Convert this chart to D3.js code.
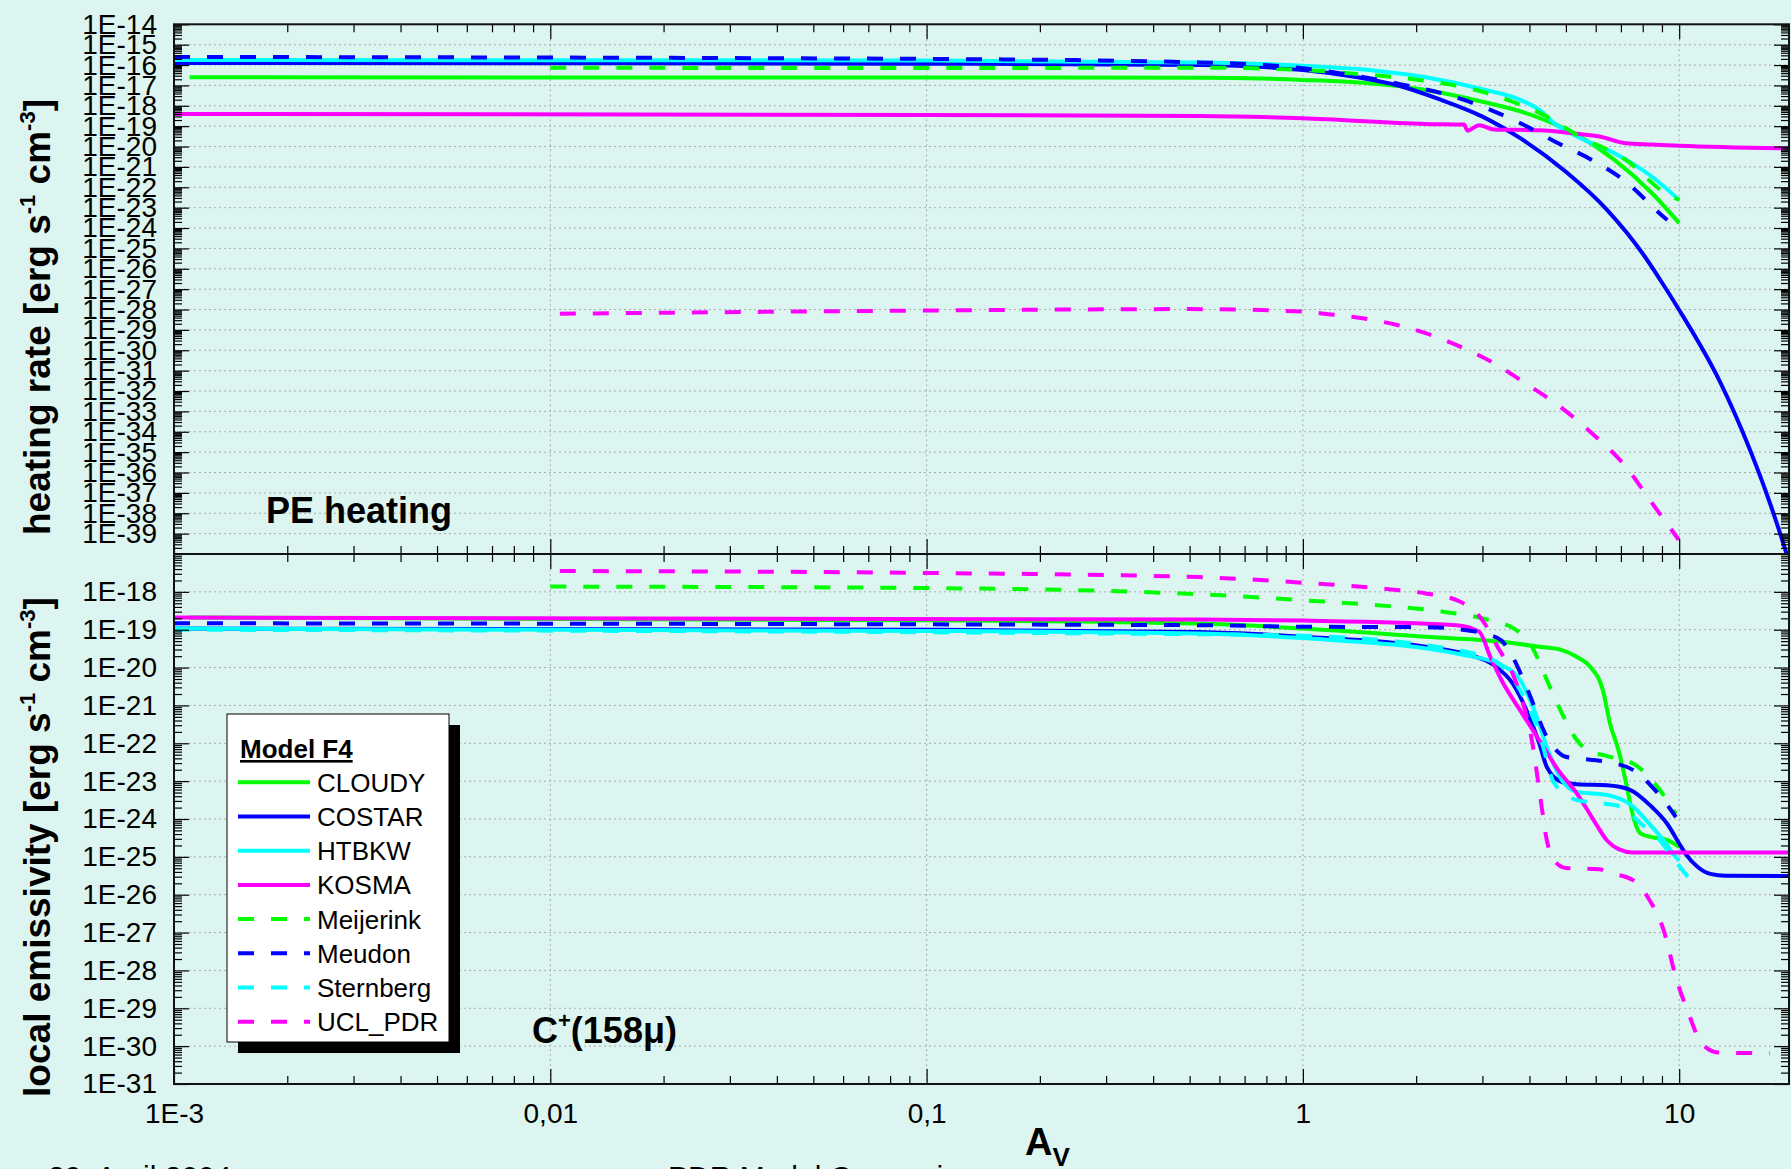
<!DOCTYPE html>
<html><head><meta charset="utf-8">
<script src="https://cdn.jsdelivr.net/npm/d3@7"></script>
<style>
html,body{margin:0;padding:0;background:#DDF5F0;}
svg{display:block;}
text{font-family:"Liberation Sans",Arial,Helvetica,sans-serif;}
</style></head><body>
<svg id="chart" width="1791" height="1169"></svg>
<script>
// ---------------- DATA ----------------
const models = ["CLOUDY","COSTAR","HTBKW","KOSMA","Meijerink","Meudon","Sternberg","UCL_PDR"];
const xTickValues = [0.001, 0.01, 0.1, 1, 10];
const xTickLabels = ["1E-3","0,01","0,1","1","10"];
const heatTickLabels = ["1E-14","1E-15","1E-16","1E-17","1E-18","1E-19","1E-20","1E-21","1E-22","1E-23","1E-24","1E-25","1E-26",
  "1E-27","1E-28","1E-29","1E-30","1E-31","1E-32","1E-33","1E-34","1E-35","1E-36","1E-37","1E-38","1E-39"];
const emisTickLabels = ["1E-18","1E-19","1E-20","1E-21","1E-22","1E-23","1E-24","1E-25","1E-26","1E-27","1E-28","1E-29","1E-30","1E-31"];

// PE heating rate [A_V, erg s-1 cm-3]
const heatCLOUDY = [[0.0011,2.5e-17],[0.1,2.45e-17],[0.53,2.4e-17],[1.0,1.86e-17],[1.5,1.26e-17],[2.12,6.0e-18],[3.0,1.58e-18],
  [4.06,3.5e-19],[5.35,3.7e-20],[6.73,2.2e-21],[8.47,5.1e-23],[10,1.74e-24]];
const heatCOSTAR = [[0.001,1.26e-16],[0.1,1.17e-16],[0.53,1.0e-16],[1.0,5.75e-17],[1.4,2.5e-17],[1.77,1.05e-17],[2.33,1.95e-18],
  [3.0,2.95e-19],[3.78,2.57e-20],[4.99,5.9e-22],[6.43,7.8e-24],[8.1,4.0e-26],[8.9,2.9e-27],[10,9.5e-29],[12.84,2.8e-32],
  [15.4,1.38e-35],[17.43,3.1e-38],[19.23,1.23e-40],[20.3,4.3e-42]];
const heatHTBKW = [[0.001,1.78e-16],[0.1,1.66e-16],[0.53,1.32e-16],[1.0,9.3e-17],[1.5,5.75e-17],[2.12,2.5e-17],[3.0,6.5e-18],
  [3.78,1.95e-18],[4.25,6.3e-19],[4.66,1.38e-19],[5.35,3.1e-20],[6.73,4.7e-21],[8.47,3.3e-22],[10,2.4e-23]];
const heatKOSMA = [[0.001,4.0e-19],[0.1,3.55e-19],[0.53,3.16e-19],[1.0,2.45e-19],[2.12,1.29e-19],[2.68,1.2e-19],[2.74,6.0e-20],
  [2.94,1.12e-19],[3.22,6.9e-20],[4.25,6.3e-20],[5.35,4.2e-20],[6.14,3.1e-20],[7.21,1.45e-20],[8.47,1.26e-20],[10,1.1e-20],[20,8.1e-21]];
const heatMeijerink = [[0.01,7.4e-17],[0.1,7.1e-17],[0.55,7.4e-17],[1.0,5.75e-17],[1.34,3.9e-17],[2.03,1.86e-17],[3.0,4.9e-18],
  [3.61,1.58e-18],[4.45,2.95e-19],[5.35,3.7e-20],[7.21,2.2e-21],[9.52,3.5e-23],[10,2.5e-23]];
const heatMeudon = [[0.001,2.5e-16],[0.1,2.0e-16],[0.53,1.35e-16],[1.0,6.9e-17],[1.69,1.5e-17],[2.68,1.95e-18],[3.15,6.3e-19],
  [3.87,1.15e-19],[4.77,1.45e-20],[5.86,2.2e-21],[7.21,1.9e-22],[9.08,3.6e-24],[9.3,2.5e-24]];
const heatSternberg = [];
const heatUCL_PDR = [[0.0106,6.2e-29],[0.1,8.9e-29],[0.5,1.05e-28],[1.0,7.9e-29],[1.17,5.9e-29],[1.44,3.7e-29],[1.77,1.78e-29],
  [2.12,6.9e-30],[2.62,1.5e-30],[3.22,2.3e-31],[3.96,2.0e-32],[4.88,1.45e-33],[5.86,8.5e-35],[7.21,1.95e-36],[8.47,3.16e-38],[9.97,5.0e-40]];

// C+ (158 micron) local emissivity [A_V, erg s-1 cm-3]
const emisCLOUDY = [[0.0011,2.1e-19],[0.1,1.78e-19],[0.53,1.45e-19],[1.0,1.07e-19],[2.12,6.5e-20],[3.37,4.8e-20],[4.25,3.55e-20],
  [4.88,2.9e-20],[5.35,1.9e-20],[5.8,1.05e-20],[6.27,2.5e-21],[6.55,3.3e-22],[6.9,6.5e-23],[7.2,1.05e-23],[7.6,9.1e-25],
  [7.9,4.1e-25],[8.47,3.3e-25],[9.28,2.8e-25],[10,1.8e-25]];
const emisCOSTAR = [[0.001,1.07e-19],[0.1,1.0e-19],[0.53,8.7e-20],[1.0,6.5e-20],[2.12,3.55e-20],[2.68,2.35e-20],[3.22,1.15e-20],
  [3.61,3.8e-21],[3.96,6.2e-22],[4.25,9.8e-23],[4.45,2.35e-23],[4.88,9.5e-24],[5.35,8.3e-24],[6.43,7.8e-24],[7.38,6.0e-24],
  [8.47,2.05e-24],[9.28,7.6e-25],[10,2.25e-25],[10.4,1.2e-25],[11.2,5.4e-26],[12.1,3.55e-26],[13.3,3.16e-26],[20,3.1e-26]];
const emisHTBKW = [[0.001,1.07e-19],[0.1,9.3e-20],[0.53,7.9e-20],[1.0,6.0e-20],[2.68,2.15e-20],[3.37,1.15e-20],[3.78,4.7e-21],
  [4.15,6.2e-22],[4.45,7.9e-23],[4.88,1.05e-23],[5.35,5.2e-24],[6.43,4.3e-24],[7.38,2.5e-24],[8.47,6.2e-25],[9.1,2.7e-25],
  [9.8,9.8e-26],[10,7.9e-26]];
const emisKOSMA = [[0.001,2.1e-19],[0.53,1.86e-19],[1.0,1.74e-19],[2.56,1.32e-19],[2.94,8.9e-20],[3.15,1.9e-20],[3.37,4.7e-21],
  [3.78,7.4e-22],[4.25,1.2e-22],[4.77,1.95e-23],[5.35,4.7e-24],[6.0,7.6e-25],[6.43,2.7e-25],[6.9,1.6e-25],[7.55,1.3e-25],[20,1.3e-25]];
const emisMeijerink = [[0.01,1.38e-18],[0.1,1.26e-18],[0.55,8.5e-19],[1.0,6.0e-19],[1.69,4.2e-19],[2.38,2.95e-19],[3.08,1.86e-19],
  [3.69,9.8e-20],[4.06,3.55e-20],[4.45,4.7e-21],[4.88,6.2e-22],[5.35,1.2e-22],[5.7,6.5e-23],[6.43,4.6e-23],[7.55,2.9e-23],
  [8.47,1.05e-23],[9.28,3.16e-24],[9.8,1.38e-24]];
const emisMeudon = [[0.001,1.48e-19],[0.53,1.32e-19],[1.0,1.2e-19],[2.12,1.17e-19],[2.68,9.8e-20],[3.15,7.2e-20],[3.37,5.2e-20],
  [3.61,1.9e-20],[3.96,2.5e-21],[4.45,1.48e-22],[4.99,4.4e-23],[5.35,4.0e-23],[6.43,3.2e-23],[7.55,1.95e-23],[8.47,7.1e-24],
  [9.52,1.7e-24],[9.8,1.12e-24]];
const emisSternberg = [[0.001,1.0e-19],[0.53,7.6e-20],[1.0,6.9e-20],[2.12,3.9e-20],[3.22,1.55e-20],[3.78,2.5e-21],[4.25,1.78e-22],
  [4.66,8.7e-24],[5.35,3.16e-24],[6.43,2.5e-24],[7.05,2.05e-24],[7.9,7.6e-25],[8.9,2.7e-25],[9.3,1.48e-25],[9.9,6.6e-26],[11.0,1.78e-26]];
const emisUCL_PDR = [[0.0106,3.55e-18],[0.1,3.16e-18],[0.53,2.45e-18],[1.0,1.74e-18],[1.69,1.17e-18],[2.12,9.1e-19],[2.62,5.5e-19],
  [2.9,2.7e-19],[3.08,1.2e-19],[3.29,3.55e-20],[3.61,6.9e-21],[3.87,9.1e-22],[4.06,1.2e-22],[4.25,5.75e-24],[4.45,2.7e-25],
  [4.66,7.9e-26],[4.99,5.1e-26],[6.14,4.7e-26],[6.6,3.7e-26],[7.55,2.4e-26],[8.3,7.8e-27],[9.1,1.12e-27],[9.8,6.6e-29],
  [10.6,7.1e-30],[11.5,1.15e-30],[12.7,6.8e-31],[17.4,6.5e-31]];

const heatSeries = [heatCLOUDY,heatCOSTAR,heatHTBKW,heatKOSMA,heatMeijerink,heatMeudon,heatSternberg,heatUCL_PDR];
const emisSeries = [emisCLOUDY,emisCOSTAR,emisHTBKW,emisKOSMA,emisMeijerink,emisMeudon,emisSternberg,emisUCL_PDR];

// ---------------- STYLE ----------------
const style = {
  CLOUDY:{c:"#00FF00",dash:null}, COSTAR:{c:"#0000FF",dash:null}, HTBKW:{c:"#00FFFF",dash:null}, KOSMA:{c:"#FF00FF",dash:null},
  Meijerink:{c:"#00FF00",dash:"16,17"}, Meudon:{c:"#0000FF",dash:"16,17"}, Sternberg:{c:"#00FFFF",dash:"16,17"}, UCL_PDR:{c:"#FF00FF",dash:"16,17"}
};
const FONT = '"Liberation Sans",Arial,Helvetica,sans-serif';

// ---------------- LAYOUT ----------------
const W=1791,H=1169;
const L=174,R=1789,T=24.3,M=554,B=1084;
const svg=d3.select("#chart");
svg.append("rect").attr("width",W).attr("height",H).attr("fill","#DDF5F0");

const x=d3.scaleLog().domain([1e-3,19.58]).range([L,R]);
const yHeat=d3.scaleLog().domain([1e-40,1e-14]).range([M,T]);
const yEmis=d3.scaleLog().domain([1e-31,1e-17]).range([B,M]);

function minorTicks(scale){
  const [a,b]=scale.domain();
  const lo=Math.floor(Math.log10(Math.min(a,b))), hi=Math.ceil(Math.log10(Math.max(a,b)));
  const out=[];
  for(let e=lo;e<hi;e++) for(let k=2;k<10;k++){const v=k*Math.pow(10,e); if(v>=Math.min(a,b)&&v<=Math.max(a,b)) out.push(v);}
  return out;
}
const xMinor=minorTicks(x);

function styleAxis(g){
  g.select(".domain").remove();
  g.attr("font-family",FONT).attr("font-size",28);
  g.selectAll(".tick line").attr("stroke","#000").attr("stroke-width",1.2);
  g.selectAll(".tick text").attr("fill","#000");
}

function drawPanel(y, top, bottom, labels, series, clipId, showXLabels){
  const g=svg.append("g");
  const gx=xTickValues.filter(v=>x(v)>L+1&&x(v)<R-1);
  g.selectAll(null).data(gx).join("line")
    .attr("x1",d=>x(d)).attr("x2",d=>x(d)).attr("y1",top).attr("y2",bottom)
    .attr("stroke","#aaaaaa").attr("stroke-width",1).attr("stroke-dasharray","2,3");
  const majors=labels.map(Number);
  const gy=majors.filter(v=>y(v)>top+1&&y(v)<bottom-1);
  g.selectAll(null).data(gy).join("line")
    .attr("x1",L).attr("x2",R).attr("y1",d=>y(d)).attr("y2",d=>y(d))
    .attr("stroke","#aaaaaa").attr("stroke-width",1).attr("stroke-dasharray","2,3");

  svg.append("clipPath").attr("id",clipId).append("rect").attr("x",L).attr("y",top).attr("width",R-L).attr("height",bottom-top);
  const line=d3.line().x(d=>x(d[0])).y(d=>y(d[1])).curve(d3.curveMonotoneX);
  const lg=svg.append("g").attr("clip-path",`url(#${clipId})`);
  series.forEach((s,i)=>{
    if(!s.length) return;
    const st=style[models[i]];
    lg.append("path").datum(s).attr("d",line).attr("fill","none")
      .attr("stroke",st.c).attr("stroke-width",4).attr("stroke-linejoin","round")
      .attr("stroke-dasharray",st.dash);
  });

  const yMinor=minorTicks(y);
  const la=svg.append("g").attr("transform",`translate(${L},0)`)
    .call(d3.axisLeft(y).tickValues(majors).tickFormat((d,i)=>labels[i]).tickSizeInner(-15).tickSizeOuter(0).tickPadding(17));
  styleAxis(la);
  const lm=svg.append("g").attr("transform",`translate(${L},0)`)
    .call(d3.axisLeft(y).tickValues(yMinor).tickFormat("").tickSizeInner(-8).tickSizeOuter(0));
  styleAxis(lm);
  const ra=svg.append("g").attr("transform",`translate(${R},0)`)
    .call(d3.axisRight(y).tickValues(majors).tickFormat("").tickSizeInner(-15).tickSizeOuter(0));
  styleAxis(ra);
  const rm=svg.append("g").attr("transform",`translate(${R},0)`)
    .call(d3.axisRight(y).tickValues(yMinor).tickFormat("").tickSizeInner(-8).tickSizeOuter(0));
  styleAxis(rm);

  const ta=svg.append("g").attr("transform",`translate(0,${top})`)
    .call(d3.axisTop(x).tickValues(xTickValues).tickFormat("").tickSizeInner(-15).tickSizeOuter(0));
  styleAxis(ta);
  const tm=svg.append("g").attr("transform",`translate(0,${top})`)
    .call(d3.axisTop(x).tickValues(xMinor).tickFormat("").tickSizeInner(-8).tickSizeOuter(0));
  styleAxis(tm);
  const ba=svg.append("g").attr("transform",`translate(0,${bottom})`)
    .call(d3.axisBottom(x).tickValues(xTickValues).tickFormat((d,i)=>showXLabels?xTickLabels[i]:"").tickSizeInner(-15).tickSizeOuter(0).tickPadding(19));
  styleAxis(ba);
  const bm=svg.append("g").attr("transform",`translate(0,${bottom})`)
    .call(d3.axisBottom(x).tickValues(xMinor).tickFormat("").tickSizeInner(-8).tickSizeOuter(0));
  styleAxis(bm);

  svg.append("rect").attr("x",L).attr("y",top).attr("width",R-L).attr("height",bottom-top)
    .attr("fill","none").attr("stroke","#111").attr("stroke-width",2);
}

drawPanel(yHeat, T, M, heatTickLabels, heatSeries, "clipHeat", false);
drawPanel(yEmis, M, B, emisTickLabels, emisSeries, "clipEmis", true);

// ---------------- TEXTS ----------------
function yTitle(cx, cy, main){
  const t=svg.append("text").attr("transform",`translate(${cx},${cy}) rotate(-90)`)
    .attr("text-anchor","middle").attr("font-family",FONT).attr("font-weight","bold").attr("font-size",37).attr("fill","#000");
  t.append("tspan").text(main+" [erg s");
  t.append("tspan").attr("font-size",22).attr("dy",-15).text("-1");
  t.append("tspan").attr("dy",15).text("  cm");
  t.append("tspan").attr("font-size",22).attr("dy",-15).text("-3");
  t.append("tspan").attr("dy",15).text("]");
}
yTitle(50, 317, "heating rate");
yTitle(50, 847, "local emissivity");

svg.append("text").attr("x",266).attr("y",523).attr("font-family",FONT).attr("font-weight","bold").attr("font-size",36).text("PE heating");

const cp=svg.append("text").attr("x",532).attr("y",1043).attr("font-family",FONT).attr("font-weight","bold").attr("font-size",36);
cp.append("tspan").text("C");
cp.append("tspan").attr("font-size",22).attr("dy",-15).text("+");
cp.append("tspan").attr("dy",15).text("(158\u03bc)");

const av=svg.append("text").attr("x",1025).attr("y",1155).attr("font-family",FONT).attr("font-weight","bold").attr("font-size",38);
av.append("tspan").text("A");
av.append("tspan").attr("font-size",26).attr("dy",11).text("V");

svg.append("text").attr("x",48).attr("y",1187).attr("font-family",FONT).attr("font-size",30).text("29. April 2004");
svg.append("text").attr("x",668).attr("y",1187).attr("font-family",FONT).attr("font-size",30).text("PDR Model Comparison");

// ---------------- LEGEND ----------------
const lgX=227, lgY=714, lgW=222, lgH=328;
svg.append("rect").attr("x",lgX+11).attr("y",lgY+11).attr("width",lgW).attr("height",lgH).attr("fill","#000");
svg.append("rect").attr("x",lgX).attr("y",lgY).attr("width",lgW).attr("height",lgH).attr("fill","#fff").attr("stroke","#000").attr("stroke-width",1);
svg.append("text").attr("x",240).attr("y",758).attr("font-family",FONT).attr("font-weight","bold").attr("font-size",26)
  .attr("text-decoration","underline").text("Model F4");
const leg=svg.append("g");
models.forEach((m,i)=>{
  const ly=782.3+i*34.2;
  leg.append("line").attr("x1",238).attr("x2",310).attr("y1",ly).attr("y2",ly)
    .attr("stroke",style[m].c).attr("stroke-width",4).attr("stroke-dasharray",style[m].dash);
  leg.append("text").attr("x",317).attr("y",ly+9.5).attr("font-family",FONT).attr("font-size",26).attr("fill","#000").text(m);
});
</script>
</body></html>
